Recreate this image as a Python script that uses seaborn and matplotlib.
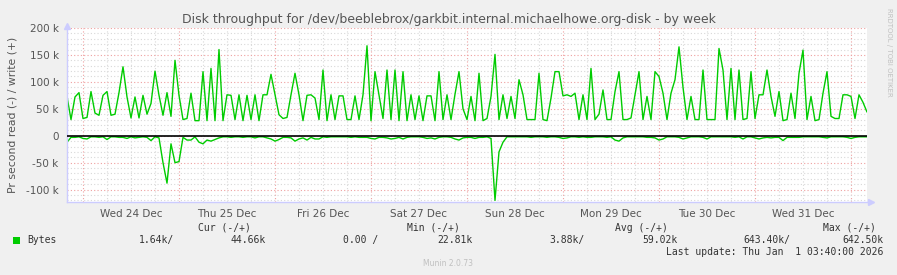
import matplotlib
matplotlib.use("Agg")
import matplotlib.pyplot as plt
import matplotlib.dates as mdates
from matplotlib.ticker import MultipleLocator, FuncFormatter
from matplotlib.patches import Rectangle
import numpy as np
import pandas as pd
import seaborn as sns

# ---------------- data (hourly samples, values in kB/s) ----------------
start_time = "2025-12-23 20:00"
write_k = [
    73, 30, 72, 80, 32, 34, 82, 42, 38, 75, 82, 38, 40, 80, 128, 72, 33, 72, 33, 75, 40, 60, 120, 75, 38,
    80, 36, 140, 75, 30, 32, 79, 28, 28, 119, 28, 125, 28, 160, 28, 76, 75, 30, 76, 28, 75, 30, 76, 28, 76,
    76, 114, 76, 39, 32, 34, 76, 116, 76, 28, 75, 76, 70, 30, 122, 28, 76, 30, 74, 74, 30, 30, 74, 30, 76,
    167, 28, 119, 76, 32, 122, 30, 122, 28, 119, 28, 76, 30, 74, 28, 74, 74, 28, 119, 30, 76, 30, 77, 119, 50,
    30, 73, 28, 116, 28, 32, 73, 151, 30, 76, 32, 73, 32, 104, 76, 30, 30, 30, 116, 30, 28, 70, 119, 119, 74,
    76, 73, 79, 30, 76, 30, 125, 30, 40, 85, 30, 30, 82, 119, 30, 30, 33, 76, 119, 30, 73, 30, 119, 110, 79,
    30, 79, 104, 165, 90, 30, 73, 30, 30, 122, 30, 30, 30, 162, 122, 30, 125, 30, 122, 30, 32, 119, 32, 76, 76,
    122, 73, 36, 82, 28, 30, 79, 32, 116, 159, 30, 73, 28, 30, 79, 119, 36, 32, 32, 76, 76, 73, 32, 76, 62, 44,
]
read_k = [
    -12, -3, -3, -2, -5, -6, -2, -2, -3, -2, -7, -2, -2, -3, -3, -5, -2, -4, -3, -2, -3, -9, -2, -4, -50,
    -88, -15, -50, -48, -3, -8, -8, -2, -12, -15, -8, -10, -7, -4, -2, -2, -3, -2, -2, -3, -2, -2, -4, -2, -2,
    -4, -6, -10, -7, -3, -3, -4, -10, -6, -4, -8, -3, -6, -6, -2, -3, -2, -2, -2, -2, -2, -3, -2, -3, -3,
    -3, -5, -6, -3, -3, -4, -6, -5, -3, -6, -3, -2, -2, -2, -3, -5, -4, -6, -3, -2, -2, -3, -6, -8, -4,
    -3, -3, -5, -3, -3, -2, -5, -120, -30, -12, -2, -2, -2, -2, -2, -2, -3, -2, -2, -2, -3, -2, -2, -3, -5,
    -4, -2, -2, -3, -2, -3, -3, -2, -2, -2, -3, -2, -8, -10, -4, -2, -2, -2, -2, -2, -3, -3, -4, -8, -6,
    -2, -2, -2, -3, -6, -4, -2, -2, -2, -3, -6, -2, -2, -2, -2, -2, -2, -3, -2, -6, -2, -2, -4, -6, -4,
    -3, -4, -3, -3, -9, -3, -3, -3, -3, -2, -2, -2, -2, -2, -3, -4, -2, -2, -2, -2, -3, -5, -3, -2, -2, -2,
]
y_ticks_k = [-100, -50, 0, 50, 100, 150, 200]
legend_headers = ["Cur (-/+)", "Min (-/+)", "Avg (-/+)", "Max (-/+)"]
legend_values = ["1.64k/", "44.66k", "0.00 /", "22.81k", "3.88k/", "59.02k", "643.40k/", "642.50k"]
series_name = "Bytes"
title = "Disk throughput for /dev/beeblebrox/garkbit.internal.michaelhowe.org-disk - by week"
ylabel = "Pr second read (-) / write (+)"
last_update = "Last update: Thu Jan  1 03:40:00 2026"

n = len(write_k)
times = pd.date_range(start_time, periods=n, freq="h")
df = pd.DataFrame({"time": times,
                   "write": np.array(write_k) * 1000.0,
                   "read": np.array(read_k[:n]) * 1000.0})

# ---------------- figure ----------------
W, H = 897, 275
sns.set_style("white")
plt.rcParams["font.family"] = ["DejaVu Sans"]
fig = plt.figure(figsize=(W / 100, H / 100), dpi=100, facecolor="#F0F0F0")
ax = fig.add_axes([67 / W, (H - 202) / H, 800 / W, 174 / H])
ax.set_facecolor("white")

GREEN = "#00CC00"
sns.lineplot(data=df, x="time", y="write", ax=ax, color=GREEN, lw=1.0, estimator=None)
sns.lineplot(data=df, x="time", y="read", ax=ax, color=GREEN, lw=1.0, estimator=None)
ax.axhline(0, color="black", lw=1.2, zorder=3)

ax.set_xlim(times[0], times[-1])
ax.set_ylim(-123000, 200000)

# grids
ax.yaxis.set_major_locator(MultipleLocator(50000))
ax.yaxis.set_minor_locator(MultipleLocator(10000))
ax.yaxis.set_major_formatter(FuncFormatter(lambda v, p: "0" if abs(v) < 1 else f"{int(round(v / 1000))} k"))
ax.xaxis.set_major_locator(mdates.HourLocator(byhour=[0]))
ax.xaxis.set_minor_locator(mdates.HourLocator(byhour=[6, 12, 18]))
ax.xaxis.set_major_formatter(FuncFormatter(lambda v, p: ""))

def minor_fmt(v, p):
    d = mdates.num2date(v)
    if d.hour == 12:
        return d.strftime("%a %d %b")
    return ""
ax.xaxis.set_minor_formatter(FuncFormatter(minor_fmt))

ax.grid(which="minor", color="#D8D8D8", ls=(0, (1, 2)), lw=0.8)
ax.grid(which="major", color="#EFA0A0", ls=(0, (1, 2)), lw=0.8)
ax.set_axisbelow(True)

ax.tick_params(axis="y", which="both", length=0, labelsize=7.5, labelcolor="#555555", pad=6)
ax.tick_params(axis="x", which="major", length=3, color="#EFA0A0", direction="out")
ax.tick_params(axis="x", which="minor", length=2, color="#D0D0D0", direction="out",
               labelsize=7.5, labelcolor="#555555", pad=3)
ax.set_xlabel("")
ax.set_ylabel("")

for s in ["top", "right"]:
    ax.spines[s].set_visible(False)
for s in ["left", "bottom"]:
    ax.spines[s].set_color("#CCCCFF")
    ax.spines[s].set_linewidth(1.0)
ax.plot([0], [1.01], marker="^", ms=4, color="#CCCCFF", transform=ax.transAxes, clip_on=False)
ax.plot([1.005], [0], marker=">", ms=4, color="#CCCCFF", transform=ax.transAxes, clip_on=False)

# texts
def fy(py):
    return 1 - py / H

fig.text(449 / W, fy(19), title, ha="center", va="center", fontsize=9, color="#555555")
fig.text(13 / W, fy(115), ylabel, ha="center", va="center", rotation=90, fontsize=7.8, color="#555555")
fig.text(889 / W, fy(52), "RRDTOOL / TOBI OETIKER", ha="center", va="center", rotation=270,
         fontsize=5, color="#C0C0C0")

mono = "DejaVu Sans Mono"
lc = "#333333"
for txt, xr in zip(legend_headers, [251, 460, 668, 876]):
    fig.text(xr / W, fy(228), txt, ha="right", va="center", family=mono, fontsize=7, color=lc)
fig.patches.append(Rectangle((13 / W, fy(244)), 7 / W, 7 / H, transform=fig.transFigure,
                             facecolor=GREEN, edgecolor="none"))
fig.text(27 / W, fy(240), series_name, ha="left", va="center", family=mono, fontsize=7, color=lc)
for txt, xr in zip(legend_values, [174, 266, 378, 473, 585, 678, 790, 883]):
    fig.text(xr / W, fy(240), txt, ha="right", va="center", family=mono, fontsize=7, color=lc)
fig.text(883 / W, fy(252), last_update, ha="right", va="center", family=mono, fontsize=7, color=lc)
fig.text(448 / W, fy(263), "Munin 2.0.73", ha="center", va="center", fontsize=5.5, color="#C0C0C0")

fig.savefig("out.png", dpi=100, facecolor=fig.get_facecolor())
